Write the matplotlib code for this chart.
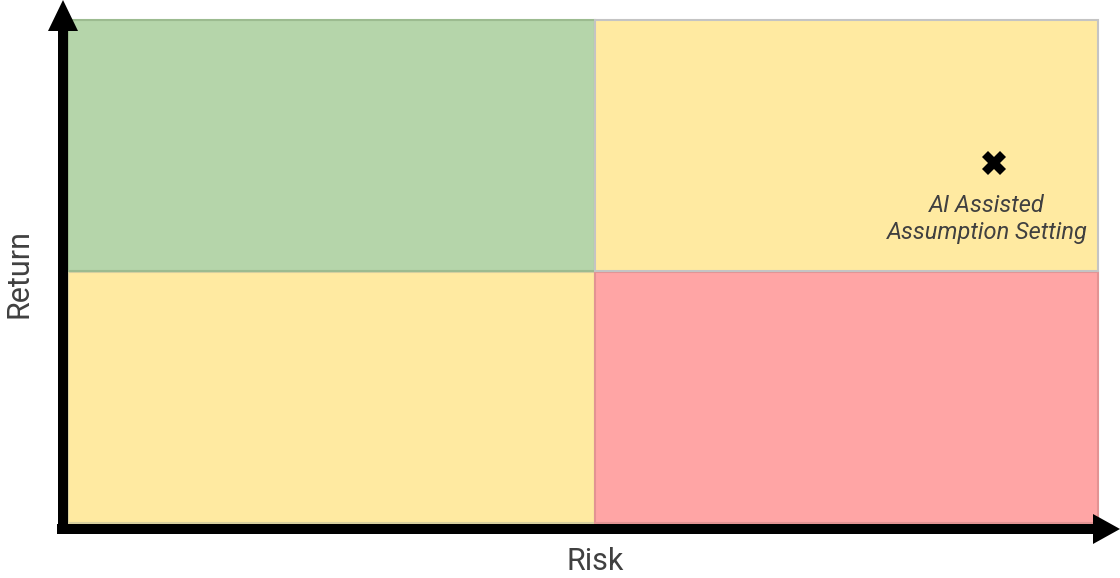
import matplotlib
matplotlib.use("Agg")
import matplotlib.pyplot as plt
from matplotlib.patches import Rectangle, FancyArrow

# Quadrant boundaries on a 0-10 risk / return scale
risk_edges = [0.0, 5.12, 10.0]
return_edges = [0.0, 5.0, 10.0]
# Colours per quadrant: (risk column, return row)
quad_fill = {(0, 1): "#b5d5aa", (1, 1): "#ffeaa1",
             (0, 0): "#ffeaa1", (1, 0): "#ffa5a5"}
quad_edge = {(0, 1): "#9cbb90", (1, 1): "#c4c4c4",
             (0, 0): "#d8d0a0", (1, 0): "#e39393"}

# Plotted item
point_names = ["AI Assisted\nAssumption Setting"]
point_risk = [8.99]
point_return = [7.15]

W, H = 1120, 578
fig = plt.figure(figsize=(W / 100, H / 100), dpi=100)

# Main quadrant area
left, right, top, bottom = 68, 1098, 20, 523
ax = fig.add_axes([left / W, 1 - bottom / H, (right - left) / W, (bottom - top) / H])
ax.set_xlim(risk_edges[0], risk_edges[-1])
ax.set_ylim(return_edges[0], return_edges[-1])
ax.axis("off")

for i in range(2):
    for j in range(2):
        x0, x1 = risk_edges[i], risk_edges[i + 1]
        y0, y1 = return_edges[j], return_edges[j + 1]
        ax.add_patch(Rectangle((x0, y0), x1 - x0, y1 - y0,
                               facecolor=quad_fill[(i, j)],
                               edgecolor=quad_edge[(i, j)], linewidth=1.5,
                               clip_on=False))

for name, rx, ry in zip(point_names, point_risk, point_return):
    ax.plot(rx, ry, marker="X", markersize=17, color="black",
            markeredgewidth=0, linestyle="none")
    ax.annotate(name, (rx, ry), xytext=(-5, -22), textcoords="offset points",
                ha="center", va="top", fontsize=17, style="italic",
                color="#404040", family="Roboto", linespacing=1.2)

# Overlay for the axis arrows and titles, in pixel units
ov = fig.add_axes([0, 0, 1, 1], zorder=5)
ov.set_xlim(0, W)
ov.set_ylim(H, 0)
ov.axis("off")
ov.patch.set_alpha(0)

ov.add_patch(FancyArrow(63, 534, 0, -534, width=10, head_width=30,
                        head_length=31, length_includes_head=True,
                        color="black", linewidth=0))
ov.add_patch(FancyArrow(57, 529, 1063, 0, width=10, head_width=30,
                        head_length=27, length_includes_head=True,
                        color="black", linewidth=0))

ov.text(595, 562, "Risk", ha="center", va="center", fontsize=22,
        color="#404040", family="Roboto")
ov.text(19, 273, "Return", ha="center", va="center", rotation=90,
        fontsize=22, color="#404040", family="Roboto")

fig.savefig("out.png", dpi=100)
